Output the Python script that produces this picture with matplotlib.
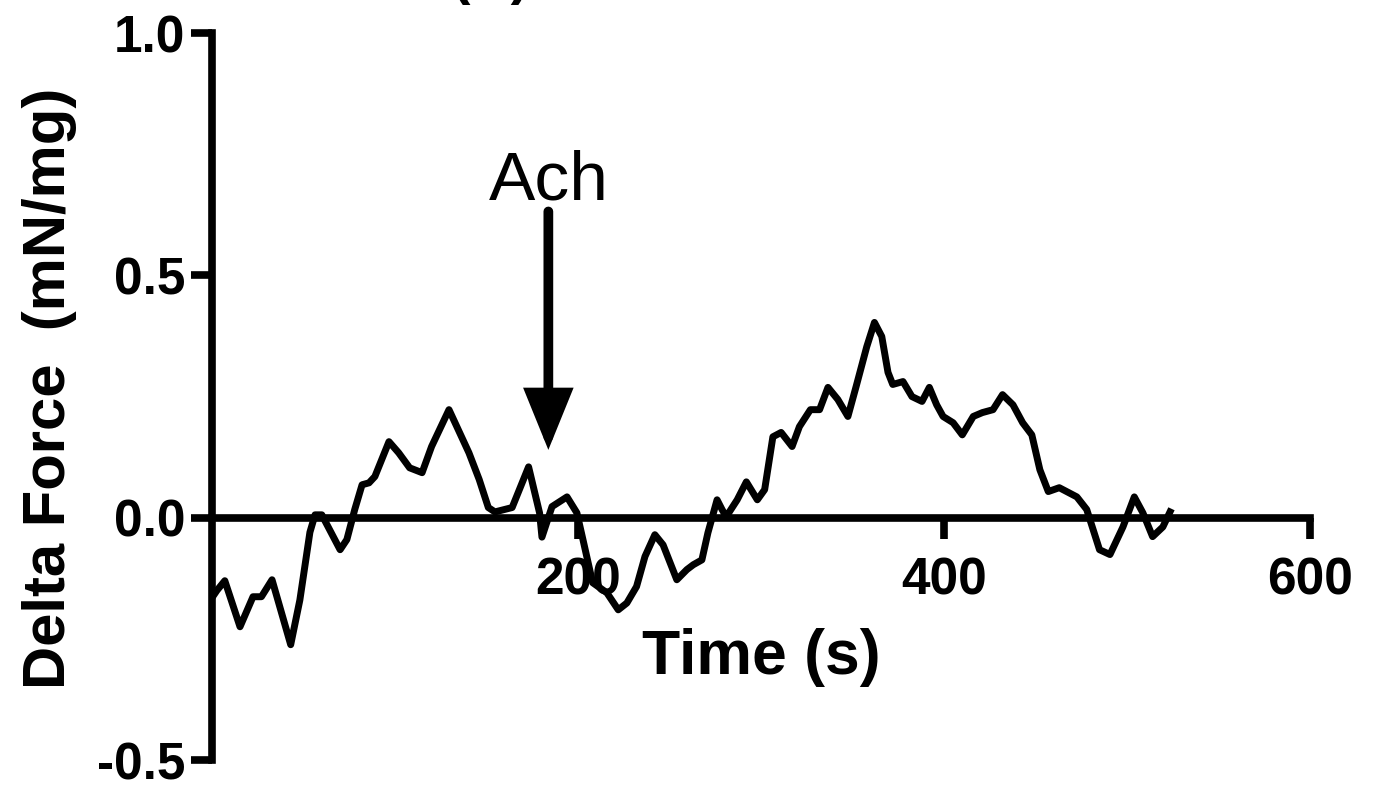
import matplotlib
matplotlib.use("Agg")
import matplotlib.pyplot as plt
from matplotlib.patches import FancyArrowPatch

plt.rcParams["font.family"] = ["Liberation Sans", "DejaVu Sans"]

# force trace after baseline subtraction
time_s = [0, 2.7, 7, 15.3, 22.4, 27, 32.8, 43, 48, 53.5, 56.3, 60, 70, 73.7,
          78, 82, 85.8, 89, 96.7, 102, 108, 114.8, 120, 129.5, 140.4, 146, 151,
          154.6, 164, 173, 179, 180.3, 185.8, 194, 199.4, 202.7, 208, 215.8,
          222, 226.7, 232, 236.6, 242, 246.5, 254, 259.5, 263, 267.7, 271, 276,
          278.7, 281, 287, 292, 298, 302, 306.5, 311, 317, 321, 327, 332, 336.6,
          342, 347.5, 352, 357.8, 362, 366, 369.4, 372, 377.6, 382.5, 388, 392,
          396, 399.5, 405, 410, 416, 421, 426.8, 432, 437.7, 443, 448, 452.4,
          457, 463, 472.6, 478, 485, 490.7, 497.8, 504, 508.7, 514, 519.6, 523.5]
delta_force = [-0.165, -0.15, -0.13, -0.225, -0.163, -0.163, -0.128, -0.262,
               -0.17, -0.03, 0.006, 0.006, -0.066, -0.045, 0.017, 0.068, 0.072,
               0.085, 0.157, 0.134, 0.103, 0.093, 0.147, 0.223, 0.134, 0.079,
               0.021, 0.012, 0.021, 0.105, 0.01, -0.04, 0.023, 0.043, 0.01,
               -0.045, -0.134, -0.155, -0.19, -0.176, -0.142, -0.08, -0.035,
               -0.056, -0.128, -0.107, -0.097, -0.087, -0.031, 0.037, 0.017,
               0.002, 0.037, 0.074, 0.037, 0.058, 0.167, 0.176, 0.147, 0.188,
               0.223, 0.223, 0.269, 0.244, 0.209, 0.271, 0.353, 0.403, 0.374,
               0.30, 0.275, 0.281, 0.25, 0.24, 0.269, 0.233, 0.209, 0.196, 0.171,
               0.209, 0.217, 0.223, 0.254, 0.233, 0.196, 0.171, 0.099, 0.054,
               0.062, 0.043, 0.017, -0.066, -0.076, -0.019, 0.043, 0.01, -0.039,
               -0.019, 0.012]

x_ticks = [200, 400, 600]
y_ticks = [-0.5, 0.0, 0.5, 1.0]
ach_time = 183.8
ach_top = 0.632
ach_tip = 0.14

fig = plt.figure(figsize=(13.74, 7.85), dpi=100)
ax = fig.add_axes([0.1543, 0.0318, 0.7991, 0.926])

ax.plot(time_s, delta_force, color="black", lw=5, solid_joinstyle="round")

ax.set_xlim(0, 600)
ax.set_ylim(-0.5, 1.0)
ax.set_xticks(x_ticks)
ax.set_yticks(y_ticks)
ax.set_yticklabels(["-0.5", "0.0", "0.5", "1.0"])

for side in ["top", "right"]:
    ax.spines[side].set_visible(False)
ax.spines["bottom"].set_position(("data", 0))
for side in ["left", "bottom"]:
    ax.spines[side].set_linewidth(5.5)
    ax.spines[side].set_capstyle("projecting")

ax.tick_params(axis="both", width=5.5, length=15, labelsize=37)
ax.tick_params(axis="x", pad=13)
ax.tick_params(axis="y", pad=4)
for lab in ax.get_xticklabels() + ax.get_yticklabels():
    lab.set_fontweight("bold")

ax.set_xlabel("Time (s)", fontsize=45, fontweight="bold", labelpad=16)
fig.text(0.036, 0.505, "Delta Force  (mN/mg)", rotation=90, fontsize=43,
         fontweight="bold", ha="center", va="center")

# stimulus marker
arrow = FancyArrowPatch((ach_time, ach_top), (ach_time, ach_tip),
                        arrowstyle="-|>,head_length=32,head_width=13",
                        mutation_scale=1, lw=7, color="black",
                        shrinkA=0, shrinkB=0, joinstyle="miter")
ax.add_patch(arrow)
ax.text(ach_time, 0.657, "Ach", fontsize=50, ha="center", va="baseline")

# panel heading sits mostly above the canvas
fig.text(452 / 1374, 1 + 7 / 785, "(B) Ach contraction", fontsize=40,
         fontweight="bold", ha="left", va="baseline")

fig.savefig("out.png", dpi=100)
